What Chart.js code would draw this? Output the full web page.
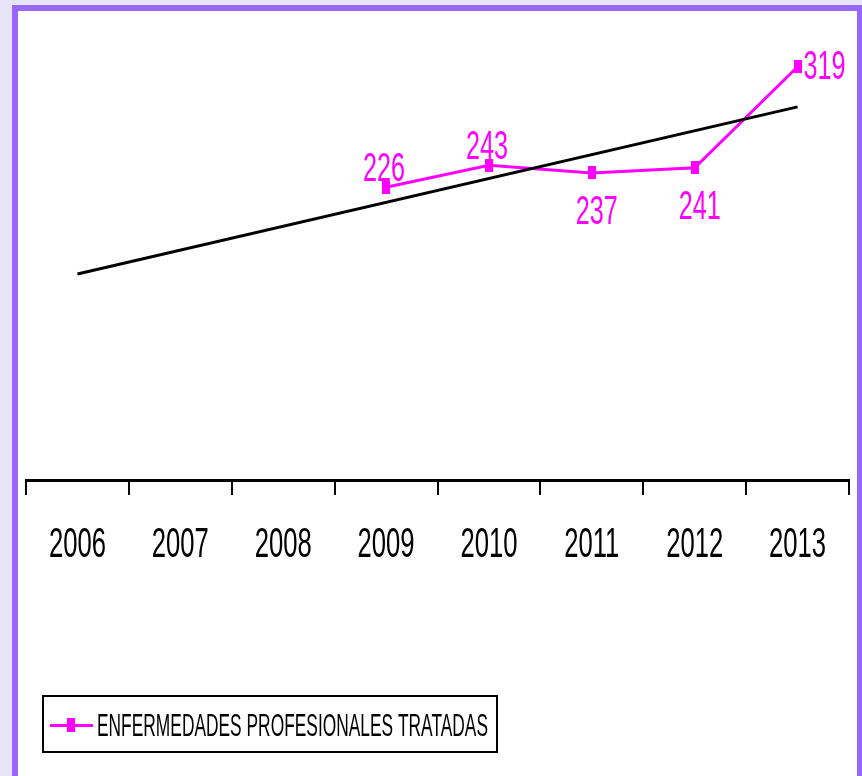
<!DOCTYPE html>
<html>
<head>
<meta charset="utf-8">
<script src="https://cdn.jsdelivr.net/npm/chart.js@4/dist/chart.umd.min.js"></script>
<style>
  html, body { margin: 0; padding: 0; width: 862px; height: 776px; overflow: hidden; background: #e6e4f6; }
  #frame { position: absolute; left: 12px; top: 5px; width: 839px; height: 800px; border: 6px solid #9966ff; background: #fff; }
  #wrap { position: absolute; left: 0; top: 0; width: 839px; height: 764px; }
</style>
</head>
<body>
<div id="frame"><div id="wrap"><canvas id="c"></canvas></div></div>
<script>
// datos
var years = ['2006', '2007', '2008', '2009', '2010', '2011', '2012', '2013'];
var tratadas = [null, null, null, 226, 243, 237, 241, 319];
var tendencia = [159, null, null, null, null, null, null, 288]; // línea de tendencia (extremos)
var serieName = 'ENFERMEDADES PROFESIONALES TRATADAS';

var FONT = '"Liberation Sans", Arial, sans-serif';
var MAGENTA = '#ff00ff';

// donde va cada etiqueta respecto al punto
var labelPos = [null, null, null, 'above', 'above', 'below', 'below', 'right'];

// el original usa una letra muy estrecha: se comprime en horizontal
function condensedText(ctx, text, x, y, sx, align) {
  ctx.save();
  ctx.translate(x, y);
  ctx.scale(sx, 1);
  ctx.textAlign = align || 'center';
  ctx.textBaseline = 'alphabetic';
  ctx.fillText(text, 0, 0);
  ctx.restore();
}

function makeMarker(w, h) {
  var c = document.createElement('canvas');
  c.width = w; c.height = h;
  var g = c.getContext('2d');
  g.fillStyle = MAGENTA;
  g.fillRect(0, 0, w, h);
  return c;
}

var yearLabels = {
  id: 'yearLabels',
  afterDraw: function (chart) {
    var sc = chart.scales.x, ctx = chart.ctx;
    ctx.save();
    ctx.font = '42px ' + FONT;
    ctx.fillStyle = '#000';
    chart.data.labels.forEach(function (lab, i) {
      condensedText(ctx, lab, sc.getPixelForTick(i), chart.chartArea.bottom + 77, 0.61);
    });
    ctx.restore();
  }
};

var valueLabels = {
  id: 'valueLabels',
  afterDatasetsDraw: function (chart) {
    var meta = chart.getDatasetMeta(1), ctx = chart.ctx;
    ctx.save();
    ctx.font = '40px ' + FONT;
    ctx.fillStyle = MAGENTA;
    meta.data.forEach(function (pt, i) {
      var v = tratadas[i];
      if (v == null || pt.skip) return;
      var pos = labelPos[i];
      if (pos === 'right') {
        condensedText(ctx, String(v), pt.x + 6, pt.y + 12, 0.63, 'left');
      } else if (pos === 'below') {
        condensedText(ctx, String(v), pt.x + 5, pt.y + 51, 0.63);
      } else {
        condensedText(ctx, String(v), pt.x - 2, pt.y - 6, 0.63);
      }
    });
    ctx.restore();
  }
};

var legendBox = {
  id: 'legendBox',
  afterDraw: function (chart) {
    var ctx = chart.ctx;
    var x0 = chart.chartArea.left + 17, y0 = chart.height - 79;
    ctx.save();
    ctx.strokeStyle = '#000';
    ctx.lineWidth = 2;
    ctx.strokeRect(x0, y0, 454, 56);
    // símbolo de la serie
    ctx.fillStyle = MAGENTA;
    ctx.fillRect(x0 + 7, y0 + 28, 43, 3);
    ctx.fillRect(x0 + 24, y0 + 22, 8, 14);
    ctx.fillStyle = '#000';
    ctx.font = '31px ' + FONT;
    condensedText(ctx, serieName, x0 + 54, y0 + 40, 0.56, 'left');
    ctx.restore();
  }
};

new Chart(document.getElementById('c'), {
  type: 'line',
  data: {
    labels: years,
    datasets: [
      {
        label: 'Tendencia',
        data: tendencia,
        borderColor: '#000',
        borderWidth: 3,
        pointRadius: 0,
        spanGaps: true,
        tension: 0
      },
      {
        label: serieName,
        data: tratadas,
        borderColor: MAGENTA,
        backgroundColor: MAGENTA,
        borderWidth: 3,
        pointStyle: makeMarker(8, 13),
        pointRadius: 5,
        spanGaps: false,
        tension: 0
      }
    ]
  },
  options: {
    responsive: true,
    maintainAspectRatio: false,
    animation: false,
    layout: { padding: { left: 8, right: 8, top: 13, bottom: 0 } },
    plugins: {
      tooltip: { enabled: false },
      legend: { display: false }
    },
    scales: {
      x: {
        offset: true,
        grid: { offset: true, drawOnChartArea: false, drawTicks: true, tickLength: 15, color: '#000', lineWidth: 2 },
        border: { color: '#000', width: 3 },
        ticks: { display: false },
        afterFit: function (s) { s.height = 295; }
      },
      y: { display: false, min: 0, max: 352 }
    }
  },
  plugins: [yearLabels, valueLabels, legendBox]
});
</script>
</body>
</html>
